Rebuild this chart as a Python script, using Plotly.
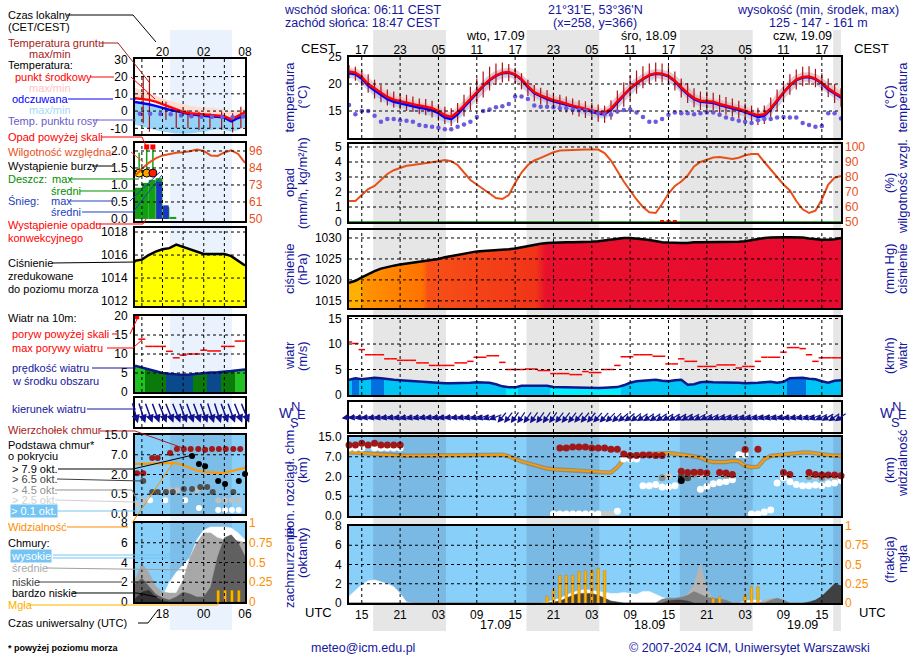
import numpy as np
import plotly.graph_objects as go

W, H = 910, 660
FONT = "Liberation Sans, Arial, Helvetica, sans-serif"
NAVY = "#16169e"
ORANGE = "#ff8c00"
HUMC = "#e8501a"
DKRED = "#a52020"

# ======================= main meteogram data =======================
# hourly values; hour = UTC hours counted from 16.09 00:00
start_hour = 13
temp = [22.3, 22.1, 21.3, 20.0, 19.2, 18.4, 17.6, 17.1, 16.8, 16.5,
        16.3, 16.0, 15.8, 15.5, 15.0, 14.2, 13.9, 14.8, 16.0, 17.3,
        18.5, 19.7, 20.8, 21.6, 22.1, 22.2, 21.8, 20.9, 19.6, 18.5,
        17.9, 17.4, 17.0, 16.7, 16.3, 16.0, 15.7, 15.4, 15.1, 14.8,
        14.7, 15.4, 16.8, 18.0, 19.2, 20.2, 21.0, 21.7, 22.0, 21.9,
        21.5, 20.6, 19.4, 18.3, 17.4, 16.9, 16.8, 16.7, 16.3, 16.0,
        15.8, 15.4, 15.0, 14.6, 14.2, 14.4, 15.5, 17.0, 18.5, 19.8,
        20.8, 21.3, 21.4, 21.0, 20.2, 19.2, 18.4, 17.7]
feels_like = [22.0, 21.8, 21.0, 19.7, 18.8, 18.0, 17.2, 16.7, 16.4, 16.1,
              15.9, 15.6, 15.4, 15.1, 14.6, 13.8, 13.5, 14.4, 15.7, 17.1,
              18.3, 19.6, 20.7, 21.5, 22.0, 22.1, 21.7, 20.8, 19.4, 18.3,
              17.7, 17.2, 16.8, 16.5, 16.1, 15.8, 15.5, 15.2, 14.9, 14.5,
              14.4, 15.2, 16.6, 17.9, 19.1, 20.1, 20.9, 21.6, 21.9, 21.8,
              21.4, 20.5, 19.2, 18.1, 17.2, 16.7, 16.6, 16.5, 16.1, 15.8,
              15.6, 15.2, 14.8, 14.3, 13.9, 14.1, 15.3, 16.8, 18.4, 19.7,
              20.7, 21.2, 21.3, 20.9, 20.1, 19.0, 18.2, 17.5]
ground_max = [23.5, 23.2, 22.5, 21.8, 20.8, 19.8, 19.0, 18.6, 18.2, 18.0,
              17.7, 17.3, 17.2, 16.9, 16.3, 15.8, 15.5, 16.5, 18.0, 19.5,
              21.0, 22.3, 23.2, 23.8, 24.0, 23.7, 23.0, 22.0, 20.8, 19.8,
              19.3, 18.9, 18.4, 18.0, 17.7, 17.3, 17.0, 16.8, 16.5, 16.2,
              16.0, 17.0, 18.8, 20.3, 21.5, 22.5, 23.3, 23.8, 24.0, 23.8,
              23.3, 22.3, 21.0, 20.2, 19.2, 18.6, 18.6, 18.4, 18.0, 17.6,
              17.3, 16.9, 16.4, 16.0, 15.6, 16.0, 17.5, 19.0, 20.5, 21.8,
              22.7, 23.2, 23.3, 22.8, 22.0, 21.0, 20.0, 19.2]
ground_min = [21.0, 20.6, 19.6, 18.4, 17.3, 16.6, 16.0, 15.6, 15.3, 15.0,
              14.8, 14.4, 14.2, 13.8, 13.2, 12.6, 12.2, 12.8, 14.0, 15.2,
              16.3, 17.5, 18.8, 19.8, 20.3, 20.5, 20.2, 19.0, 17.8, 16.8,
              16.2, 15.8, 15.4, 15.0, 14.7, 14.3, 14.0, 13.7, 13.4, 13.0,
              12.8, 13.4, 14.5, 15.8, 17.0, 18.2, 19.2, 20.0, 20.4, 20.3,
              19.8, 18.8, 17.5, 16.5, 15.7, 15.2, 15.0, 15.0, 14.6, 14.3,
              14.0, 13.6, 13.2, 12.8, 12.4, 12.6, 13.6, 15.0, 16.6, 18.0,
              19.0, 19.6, 19.8, 19.4, 18.6, 17.6, 16.5, 15.8]
dew_point = [16.1, 14.4, 15.0, 15.0, 14.1, 13.0, 13.5, 13.5, 13.3, 13.2,
             13.0, 12.4, 12.2, 12.1, 11.9, 11.6, 11.6, 12.1, 12.5, 13.0,
             13.9, 15.0, 15.3, 15.7, 15.9, 16.3, 17.7, 17.7, 17.2, 16.0,
             15.8, 15.8, 15.7, 15.5, 15.5, 15.3, 15.2, 15.1, 14.9, 14.6,
             14.4, 14.3, 14.9, 15.2, 15.3, 14.7, 13.9, 13.0, 13.0, 13.5,
             14.3, 14.7, 14.6, 14.6, 14.4, 14.6, 14.7, 14.7, 14.3, 13.8,
             13.5, 13.2, 13.0, 12.8, 13.3, 13.5, 13.5, 13.8, 13.9, 13.8,
             13.8, 12.8, 12.4, 12.1, 12.2, 14.6, 14.6, 13.6]
humidity = [64, 64, 68, 72, 74, 78, 82, 84.5, 86, 87.5,
            88, 88.5, 89, 89.5, 90.5, 91.3, 90.5, 88, 83, 78,
            75, 72, 68.5, 66, 65.3, 68, 76, 83, 88, 91,
            92.8, 94.5, 96.5, 97.6, 97.9, 98, 98.2, 98.3, 98.4, 98.3,
            96, 91, 84, 77, 71, 65, 60, 56.5, 56, 62,
            69, 74, 77, 81, 87, 90, 91.5, 93, 93.3, 92.5,
            92, 92.8, 94.5, 95.3, 95.3, 90, 85, 80, 75, 71,
            64, 58.5, 56, 57.5, 65, 75, 79.5, 80.7]
pressure = [1019.3, 1019.8, 1020.6, 1021.4, 1022.1, 1022.7, 1023.1, 1023.4, 1023.7, 1023.9,
            1024.1, 1024.3, 1024.5, 1024.7, 1025.0, 1025.4, 1025.7, 1026.0, 1026.3, 1026.6,
            1026.8, 1026.9, 1027.0, 1027.0, 1027.1, 1027.3, 1027.5, 1027.8, 1028.1, 1028.4,
            1028.6, 1028.8, 1028.9, 1029.0, 1029.0, 1029.0, 1029.0, 1029.0, 1029.1, 1029.2,
            1029.4, 1029.7, 1029.9, 1030.0, 1030.0, 1029.9, 1029.7, 1029.5, 1029.2, 1029.0,
            1028.9, 1028.8, 1028.8, 1028.8, 1029.0, 1029.0, 1029.0, 1029.0, 1029.0, 1029.0,
            1029.0, 1029.1, 1029.2, 1029.5, 1029.8, 1030.0, 1030.1, 1030.2, 1030.2, 1030.2,
            1030.2, 1030.1, 1029.9, 1029.7, 1029.6, 1029.6, 1029.7, 1030.0]
wind_speed = [3.0, 3.3, 3.1, 3.2, 3.4, 3.3, 3.1, 3.0, 2.9, 2.8,
              2.7, 2.6, 2.6, 2.5, 2.4, 2.3, 2.3, 2.3, 2.4, 2.4,
              2.5, 2.5, 2.4, 2.1, 1.7, 1.5, 1.5, 1.8, 1.8, 1.9,
              1.9, 1.8, 1.55, 1.5, 1.5, 1.5, 1.45, 1.4, 1.35, 1.35,
              1.4, 1.5, 1.55, 1.9, 2.4, 2.7, 2.8, 2.9, 3.0, 2.8,
              2.7, 2.9, 3.0, 2.0, 2.1, 2.5, 2.6, 2.5, 2.5, 2.4,
              2.4, 2.4, 2.3, 2.3, 2.4, 2.5, 2.6, 2.4, 2.6, 3.3,
              3.4, 3.4, 3.2, 3.1, 2.7, 2.4, 2.8, 2.9]
wind_gust = [10.4, 10.1, 8.9, 7.9, 7.9, 7.9, 7.1, 7.1, 6.8, 6.8,
             6.8, 6.3, 6.3, 5.8, 5.8, 5.8, 5.8, 6.3, 6.3, 6.6,
             7.4, 7.4, 7.7, 7.7, 6.4, 5.0, 5.0, 5.0, 5.1, 5.1,
             4.8, 4.8, 4.2, 4.2, 4.2, 4.0, 4.0, 4.6, 4.4, 4.4,
             5.0, 5.0, 5.8, 7.5, 7.5, 7.9, 7.9, 7.9, 7.6, 7.6,
             6.1, 6.1, 7.1, 6.6, 6.6, 5.6, 5.6, 5.6, 5.9, 5.9,
             5.9, 5.3, 5.6, 5.6, 6.6, 7.4, 7.4, 7.4, 8.4, 9.3,
             9.3, 9.1, 7.9, 6.6, 7.3, 7.3, 7.3, 7.3]
wind_dir = [80, 80, 78, 78, 77, 77, 76, 76, 75, 75,
            75, 75, 76, 76, 77, 77, 78, 78, 76, 75,
            74, 72, 70, 68, 40, 38, 36, 35, 35, 35,
            35, 35, 36, 38, 38, 38, 40, 40, 40, 42,
            42, 45, 45, 50, 52, 52, 55, 55, 55, 55,
            58, 58, 60, 60, 62, 62, 65, 65, 65, 68,
            68, 70, 70, 70, 72, 72, 72, 72, 75, 75,
            75, 75, 72, 70, 65, 60, 55, 55]
visibility = [38, 36, 34, 32, 30, 28, 26, 25, 24, 24,
              24, 24, 24, 24, 24, 24, 24, 24, 24, 24,
              25, 26, 27, 28, 28, 22, 18, 16.5, 15, 13.5,
              12, 11, 10.5, 10.1, 10, 9.8, 9.5, 9.2, 8.8, 8.2,
              8, 8, 12, 18, 24, 28, 30, 32, 33, 34,
              35, 32, 29, 26, 22, 19.5, 17, 16, 16, 16,
              17, 16.5, 13, 12, 12.5, 18, 23, 26, 30, 34,
              37, 37, 37, 33, 29, 25, 24, 24]
conv_precip_hours = [62, 63, 64]

# cloud cover (oktas), only non-zero hours listed
cloud_high = {13: 0.7, 14: 1.3, 15: 1.9, 16: 2.3, 17: 2.4, 18: 2.2, 19: 2.0, 20: 1.7, 21: 1.0, 22: 0.1,
              44: 0.1, 45: 0.3, 46: 0.5, 47: 0.8, 48: 1.1, 49: 1.3, 50: 1.4, 51: 1.3, 52: 1.2, 53: 1.1,
              54: 1.0, 55: 1.0, 56: 1.1, 57: 1.0, 58: 0.9, 59: 1.2, 60: 1.2, 61: 0.9, 62: 0.6, 63: 0.4,
              64: 0.3, 65: 0.3, 66: 0.3, 67: 0.2, 68: 0.2, 69: 0.1, 75: 0.2, 76: 0.3, 77: 0.3, 78: 0.1}
cloud_mid = {62: 0.3, 63: 0.5, 64: 0.4, 65: 0.6, 66: 0.9, 67: 2.0, 68: 4.1, 69: 1.5, 70: 0.4,
             71: 0.3, 78: 0.3, 79: 0.5, 80: 0.4}
cloud_low = {62: 0.4, 63: 0.5, 64: 0.5, 65: 0.6, 66: 0.8, 67: 1.2, 68: 0.9, 69: 0.6, 70: 0.5,
             71: 0.4, 72: 0.3, 79: 0.3, 80: 0.5, 81: 0.3, 86: 0.2, 87: 0.6, 88: 1.0, 89: 1.5, 90: 1.7}
cloud_vlow = {45: 0.1, 46: 0.2, 47: 0.5, 48: 0.8, 49: 1.0, 50: 1.0, 51: 1.0, 52: 0.8, 53: 0.5,
              54: 0.2, 55: 0.1, 63: 0.2, 64: 0.3, 65: 0.3, 66: 0.2, 85: 0.1, 86: 0.3, 87: 0.7,
              88: 1.3, 89: 2.0, 90: 1.8}
fog_hours = [44, 45, 46, 47, 48, 49, 50, 51, 52, 53, 70, 71, 75, 76, 77]
fog_frac = [0.09, 0.18, 0.36, 0.36, 0.36, 0.41, 0.42, 0.43, 0.45, 0.42, 0.06, 0.08, 0.11, 0.21, 0.21]

# cloud top / base heights (km)
cloud_top_h = [13, 14, 15, 16, 17, 18, 19, 20, 21, 46, 47, 48, 49, 50, 51, 52, 53, 54, 55,
               56, 57, 58, 59, 60, 61, 62, 65, 66, 67, 68, 69, 71, 72, 73, 75, 77, 81, 82,
               85, 86, 87, 88, 89, 90]
cloud_top_km = [11.8, 11.8, 12.5, 11.8, 12.5, 11.8, 11.8, 11.8, 11.8, 10.5, 10.5, 11.0, 11.0,
                11.0, 10.5, 10.5, 10.5, 10.0, 10.0, 8.1, 7.5, 7.5, 7.7, 7.7, 7.5, 7.5, 3.3, 3.0,
                3.1, 3.1, 2.9, 3.0, 2.9, 2.5, 9.9, 10.0, 3.0, 2.5, 3.0, 2.5, 2.4, 2.4, 2.4, 2.2]
base01_h = [13, 14, 15, 17, 18, 19, 20, 21, 45, 46, 47, 48, 49, 50, 51, 52, 55, 56, 57, 58,
            59, 60, 61, 62, 63, 64, 68, 69, 70, 71, 72, 73, 74, 75, 76, 77, 78, 79, 80, 81,
            82, 83, 84, 85, 86, 87, 88, 89, 90]
base01_km = [10.5, 10.5, 10.5, 10.5, 10.5, 10.5, 10.5, 10.5, 0.05, 0.05, 0.05, 0.05, 0.05,
             0.05, 0.05, 0.05, 0.12, 6.4, 6.4, 6.4, 1.3, 1.3, 1.4, 1.2, 1.2, 1.3, 1.04, 1.24,
             1.44, 1.54, 1.62, 1.75, 7.8, 7.8, 0.05, 0.05, 0.1, 0.15, 1.5, 1.9, 1.6, 1.4, 1.3,
             1.3, 1.35, 1.3, 1.45, 1.5, 1.7]
base25_h = [16, 53, 54, 63, 68, 73, 86, 88, 89]
base25_km = [11.8, 0.05, 0.05, 2.1, 2.4, 2.3, 2.1, 2.1, 2.0]
base45_h = [62, 67, 72, 85, 87]
base45_km = [1.9, 2.6, 2.3, 2.0, 1.9]
base65_h = [65, 66]
base65_km = [2.0, 1.9]
base79_h = [65]
base79_km = [1.7]

tick_hours = [15, 21, 27, 33, 39, 45, 51, 57, 63, 69, 75, 81, 87]
cest_labels = ["17", "23", "05", "11", "17", "23", "05", "11", "17", "23", "05", "11", "17"]
utc_labels = ["15", "21", "03", "09", "15", "21", "03", "09", "15", "21", "03", "09", "15"]
date_hours = [36, 60, 84]
date_top = ["wto, 17.09", "śro, 18.09", "czw, 19.09"]
date_bottom = ["17.09", "18.09", "19.09"]
sunset_h = [16.78, 40.78, 64.78, 88.78]
sunrise_h = [28.18, 52.18, 76.18, 100.18]

# ======================= legend example (mini) data =======================
mini_start = 14
mini_temp = [7.4, 7.1, 6.5, 5.5, 4.0, 2.2, 0.8, -0.5, -1.2, -1.6, -2.0, -2.2, -2.4, -3.0, -4.8, -3.0, -0.8]
mini_feels = [5.2, 4.8, 4.0, 3.0, 1.8, 0.8, 0.0, -1.0, -1.8, -2.3, -2.8, -3.1, -3.3, -3.8, -6.0, -4.0, -2.5]
mini_tmax = [13.5, 12.0, 10.5, 9.0, 7.5, 6.0, 5.0, 4.0, 3.0, 2.5, 2.0, 2.0, 1.5, 1.0, 0.0, 0.5, 1.5]
mini_fmin = [-8, -9, -10, -11, -12, -12.5, -13, -13, -13, -12.5, -12, -11, -10.5, -11, -12, -11, -9]
mini_dew_h = [14.7, 16.2, 17.7, 19.2, 20.7, 22.2, 23.7, 25.2, 26.7, 28.2, 29.7]
mini_dew = [-1.5, -1.6, -1.7, -1.8, -2.5, -3.0, -3.3, -3.3, -3.5, -3.6, -3.2]
mini_ground_h = [15.2, 16.1, 18.5, 20.0, 21.7, 23.3, 24.9, 26.6, 28.2, 29.4]
mini_ground_max = [19.9, 19.9, 5.4, 0.6, 0.6, -0.4, -1.3, -0.4, -1.3, 2.5]
mini_ground_min = [-7.1, -12.0, -5.2, -10.0, -10.0, -11.0, -10.0, -11.0, -12.5, -10.0]
mini_rain_h = [14.5, 15.5, 16.5, 17.5, 18.5, 19.5]
mini_rain = [0.92, 1.06, 1.15, 1.2, 0.35, 0.06]
mini_snow = [0, 0, 0, 1.1, 0.4, 0]
mini_storm_h = [14.6, 15.7, 16.6]
mini_storm_y = [1.35, 1.35, 1.35]
mini_over_h = [15.7, 16.6]
mini_over_y = [2.12, 2.12]
mini_hum = [79, 84, 88, 91, 93, 94, 94.8, 95.2, 95.8, 97, 96, 93, 92.6, 95, 96.5, 94, 88]
mini_press = [1015.5, 1015.6, 1016.0, 1016.3, 1016.5, 1016.6, 1016.9, 1016.7, 1016.5, 1016.3,
              1016.1, 1016.1, 1016.1, 1016.1, 1015.9, 1015.5, 1015.1]
mini_wind = [6.9, 6.4, 5.8, 5.4, 5.0, 4.8, 4.6, 4.5, 4.6, 4.8, 5.0, 5.1, 5.2, 5.3, 5.5, 5.7, 5.9]
mini_gust_h = [15, 16, 17, 18, 19, 20, 21, 22, 23, 24, 25, 26, 27, 28, 29, 30]
mini_gust = [13.9, 12.0, 12.0, 12.0, 10.7, 9.0, 9.7, 10.0, 10.0, 11.0, 10.8, 10.8, 12.0, 12.0, 13.4, 13.4]
mini_dir = [345, 342, 340, 340, 338, 338, 338, 340, 340, 340, 340, 342, 342, 340, 340, 338, 338]
mini_vis = [13, 13, 13, 13, 13.5, 13.8, 13.5, 12, 10, 8, 7, 6.5, 6.2, 6.2, 7.5, 8.5, 10]
mini_top_h = [14.3, 15.2, 16.5, 17.3, 19.1, 20.1, 21.1, 22.1, 23.2, 24.2, 25.2, 26.2, 27.2, 28.3, 29.3]
mini_top_km = [2.3, 2.3, 6.2, 6.2, 7.7, 9.3, 9.3, 9.3, 9.3, 9.0, 9.3, 9.3, 9.3, 9.3, 9.3]
mini_b79_h = [22.3, 23.3, 24.2, 26.1, 27.1, 29.1, 30.0]
mini_b79_km = [6.7, 4.65, 4.1, 1.5, 1.28, 1.5, 2.15]
mini_b65_h = [15.2, 16.5, 17.3, 18.5, 19.5, 21.1, 22.3, 23.5, 24.5, 25.3, 28.3]
mini_b65_km = [1.5, 0.67, 0.67, 0.67, 0.67, 0.9, 0.9, 1.05, 1.05, 0.67, 0.67]
mini_b45_h = [14.3, 15.2, 19.1, 20.1, 23.0, 26.1, 27.1, 28.1, 29.1]
mini_b45_km = [0.23, 0.35, 0.8, 0.8, 0.8, 0.35, 0.35, 0.35, 0.35]
mini_b01_h = [16.2, 18.4, 21.3, 23.3, 26.1, 27.1, 28.1, 29.1]
mini_b01_km = [0.35, 0.35, 0.35, 0.15, 0.1, 0.1, 0.1, 0.1]
mini_high = [0, 0, 0, 0, 0.5, 2.0, 3.0, 3.8, 4.5, 6.3, 7.3, 7.6, 7.6, 7.6, 7.5, 7.0, 6.3]
mini_mid = [2.2, 3.9, 3.0, 1.6, 1.0, 0.9, 0.9, 2.2, 4.5, 6.0, 7.0, 7.0, 6.5, 6.3, 6.3, 6.2, 6.0]
mini_low = [1.8, 2.4, 1.6, 0.8, 0.4, 0.2, 0.5, 1.0, 0.8, 0.5, 0.5, 1.5, 4.5, 6.5, 6.8, 6.0, 4.6]
mini_vlow = [0.3, 1.0, 1.2, 0.5, 0.1, 0, 0, 0, 0, 0, 0, 0, 0, 0, 0, 0, 0]
mini_fog_h = [26.1, 27.1, 28.1, 29.1]
mini_fog = [0.15, 0.15, 0.15, 0.15]
mini_night = (19.1, 28.1)

# ======================= helpers =======================
hours = list(range(start_hour, start_hour + len(temp)))
rain = [0.0 for _ in hours]
mini_hours = list(range(mini_start, mini_start + len(mini_temp)))

CB_KM = [0, 0.5, 2, 7, 15]
VIS_KM = [0, 1, 5, 20, 100]
POS = [0, 1, 2, 3, 4]


def cbpos(v):
    return list(np.interp(v, CB_KM, POS))


def vispos(v):
    return list(np.interp(v, VIS_KM, POS))


def P(x):
    return x / W


def Q(y):
    return 1 - y / H


def xr(n):
    return "x" if n == 1 else f"x{n}"


def yr(n):
    return "y" if n == 1 else f"y{n}"


def xk(n):
    return "xaxis" if n == 1 else f"xaxis{n}"


def yk(n):
    return "yaxis" if n == 1 else f"yaxis{n}"


fig = go.Figure()
layout = dict(width=W, height=H, autosize=False,
              margin=dict(l=0, r=0, t=0, b=0, pad=0, autoexpand=False),
              paper_bgcolor="white", plot_bgcolor="rgba(0,0,0,0)", showlegend=False,
              barmode="overlay", font=dict(family=FONT, size=12, color="black"))
shapes = []
annotations = []

MAIN_X = (349, 841)
MINI_X = (135, 245)
main_rows = [(57, 138), (144, 222), (230, 308), (317, 395), (402, 432), (437, 516), (526, 603)]
mini_rows = [(59, 134), (143, 221), (228, 306), (316, 392), (398, 427), (435, 514), (523, 602)]

TICK = 12
tickfont = dict(size=TICK, family=FONT, color="black")


def make_panel(n, xpx, ypx, xrange, yrange, yticks, yticktext=None, right=None,
               xticks=None, xticktext=None, xside=None):
    xa = dict(domain=[P(xpx[0]), P(xpx[1])], range=xrange, anchor=yr(n), showline=True,
              linecolor="black", linewidth=2, mirror=True, ticks="", showgrid=False,
              zeroline=False, fixedrange=True, tickfont=tickfont, automargin=False)
    if xticks is not None:
        xa.update(tickvals=xticks, ticktext=xticktext, side=xside, showticklabels=True,
                  ticklabelstandoff=(-4 if xside == "top" else 0))
    else:
        xa.update(showticklabels=False)
    ya = dict(domain=[Q(ypx[1]), Q(ypx[0])], range=yrange, anchor=xr(n), showline=True,
              linecolor="black", linewidth=2, mirror=True, ticks="", showgrid=False,
              zeroline=False, fixedrange=True, tickfont=tickfont, ticklabelstandoff=3,
              automargin=False)
    if yticks is None:
        ya.update(showticklabels=False)
    else:
        ya.update(tickvals=yticks, ticktext=yticktext if yticktext else [str(t) for t in yticks])
    layout[xk(n)] = xa
    layout[yk(n)] = ya
    if right is not None:
        m, rrange, rticks, rtext, rcolor = right
        layout[yk(m)] = dict(overlaying=yr(n), anchor=xr(n), side="right", range=rrange,
                             tickvals=rticks, ticktext=rtext, showline=False, showgrid=False,
                             zeroline=False, ticks="", fixedrange=True, ticklabelstandoff=3,
                             automargin=False,
                             tickfont=dict(size=TICK, family=FONT, color=rcolor))


# ---------- main panels ----------
XR = [13, 90]
make_panel(1, MAIN_X, main_rows[0], XR, [10, 25], [15, 20, 25],
           right=(8, [10, 25], [15, 20, 25], ["15", "20", "25"], "black"),
           xticks=tick_hours, xticktext=cest_labels, xside="top")
make_panel(2, MAIN_X, main_rows[1], XR, [0, 5.2], [0, 1, 2, 3, 4, 5],
           right=(9, [50, 102], [50, 60, 70, 80, 90, 100],
                  ["50", "60", "70", "80", "90", "100"], HUMC))
make_panel(3, MAIN_X, main_rows[2], XR, [1013.3, 1031.9], [1015, 1020, 1025, 1030],
           right=(10, [1013.3, 1031.9], [1015, 1020, 1025, 1030],
                  ["761", "765", "769", "772"], "black"))
make_panel(4, MAIN_X, main_rows[3], XR, [0, 15.3], [0, 5, 10, 15],
           right=(11, [0, 15.3 * 3.6], [0, 18, 36, 54], ["0", "18", "36", "54"], "black"))
make_panel(5, MAIN_X, main_rows[4], XR, [-1, 1], None)
make_panel(6, MAIN_X, main_rows[5], XR, [0, 4], [0, 1, 2, 3, 4],
           ["0.0", "0.5", "2.0", "7.0", "15.0"],
           right=(13, [0, 4], [0, 1, 2, 3, 4], ["0", "1", "5", "20", "100"], ORANGE))
make_panel(7, MAIN_X, main_rows[6], XR, [0, 8], [0, 2, 4, 6, 8],
           right=(14, [0, 1], [0, 0.25, 0.5, 0.75, 1], ["0", "0.25", "0.5", "0.75", "1"], ORANGE),
           xticks=tick_hours, xticktext=utc_labels, xside="bottom")

# ---------- mini (legend) panels ----------
MR = [14, 30]
mini_hum_range = [50 + 23 * -0.06, 50 + 23 * 2.235]
make_panel(15, MINI_X, mini_rows[0], MR, [-13.3, 30.2], [-10, 0, 10, 20, 30],
           right=(22, [-13.3, 30.2], [-10, 0, 10, 20, 30], ["-10", "0", "10", "20", "30"], "black"),
           xticks=[18, 24, 30], xticktext=["20", "02", "08"], xside="top")
make_panel(16, MINI_X, mini_rows[1], MR, [-0.06, 2.235], [0, 0.5, 1, 1.5, 2],
           ["0.0", "0.5", "1.0", "1.5", "2.0"],
           right=(23, mini_hum_range, [50, 61.5, 73, 84.5, 96], ["50", "61", "73", "84", "96"], HUMC))
make_panel(17, MINI_X, mini_rows[2], MR, [1011.57, 1018.35], [1012, 1014, 1016, 1018],
           right=(24, [1011.57, 1018.35], [1012, 1014, 1016, 1018],
                  ["1012", "1014", "1016", "1018"], "black"))
make_panel(18, MINI_X, mini_rows[3], MR, [0, 20], [0, 5, 10, 15, 20],
           right=(25, [0, 72], [0, 18, 36, 54, 72], ["0", "18", "36", "54", "72"], "black"))
make_panel(19, MINI_X, mini_rows[4], MR, [-1, 1], None)
make_panel(20, MINI_X, mini_rows[5], MR, [0, 4], [0, 1, 2, 3, 4],
           ["0.0", "0.5", "2.0", "7.0", "15.0"],
           right=(27, [0, 4], [0, 1, 2, 3, 4], ["0", "1", "5", "20", "100"], ORANGE))
make_panel(21, MINI_X, mini_rows[6], MR, [0, 8], [0, 2, 4, 6, 8],
           right=(28, [0, 1], [0, 0.25, 0.5, 0.75, 1], ["0", "0.25", "0.5", "0.75", "1"], ORANGE),
           xticks=[18, 24, 30], xticktext=["18", "00", "06"], xside="bottom")

# ---------- backgrounds ----------
for ss, sr in zip(sunset_h, sunrise_h):
    shapes.append(dict(type="rect", xref="x", yref="paper", x0=ss, x1=min(sr, XR[1]),
                       y0=Q(631), y1=Q(30), fillcolor="#e6e6e6", line=dict(width=0), layer="below"))
shapes.append(dict(type="rect", xref="x15", yref="paper", x0=mini_night[0], x1=mini_night[1],
                   y0=Q(630), y1=Q(30), fillcolor="#eaf2fd", line=dict(width=0), layer="below"))
for (xa, xb), rows in ((MAIN_X, main_rows), (MINI_X, mini_rows)):
    for (t, b) in rows[5:7]:
        shapes.append(dict(type="rect", xref="paper", yref="paper", x0=P(xa), x1=P(xb),
                           y0=Q(b), y1=Q(t), fillcolor="#88cff9", line=dict(width=0), layer="below"))
for n in (6, 7):
    for ss, sr in zip(sunset_h, sunrise_h):
        shapes.append(dict(type="rect", xref=xr(n), yref=f"{yr(n)} domain", x0=ss, x1=min(sr, XR[1]),
                           y0=0, y1=1, fillcolor="rgba(0,0,40,0.10)", line=dict(width=0), layer="below"))
for n in (20, 21):
    shapes.append(dict(type="rect", xref=xr(n), yref=f"{yr(n)} domain", x0=mini_night[0],
                       x1=mini_night[1], y0=0, y1=1, fillcolor="rgba(0,0,40,0.08)",
                       line=dict(width=0), layer="below"))

# ---------- grids (dashed, drawn above fills) ----------
GRID = dict(color="black", width=1, dash="3px,3px")


def vgrid(n, xs):
    for x in xs:
        shapes.append(dict(type="line", xref=xr(n), yref=f"{yr(n)} domain", x0=x, x1=x, y0=0, y1=1,
                           line=GRID, layer="above"))


def hgrid(n, ys):
    for y in ys:
        shapes.append(dict(type="line", xref=f"{xr(n)} domain", yref=yr(n), x0=0, x1=1, y0=y, y1=y,
                           line=GRID, layer="above"))


for n in range(1, 8):
    vgrid(n, tick_hours)
hgrid(1, [15, 20])
hgrid(2, [1, 2, 3, 4, 5])
hgrid(3, [1015, 1020, 1025, 1030])
hgrid(4, [5, 10, 15])
hgrid(6, [1, 2, 3])
hgrid(7, [2, 4, 6])
for n in range(15, 22):
    vgrid(n, [15, 18, 21, 24, 27])
hgrid(15, [-10, 0, 10, 20])
hgrid(16, [0.5, 1.0, 1.5, 2.0])
hgrid(17, [1012, 1014, 1016, 1018])
hgrid(18, [5, 10, 15])
hgrid(20, [1, 2, 3])
hgrid(21, [2, 4, 6])


def S(**kw):
    fig.add_trace(go.Scatter(hoverinfo="skip", **kw))


def vbars(xs, lo, hi):
    bx, by = [], []
    for x, a, b in zip(xs, lo, hi):
        bx += [x, x, None]
        by += [a, b, None]
    return bx, by


def dashes(xs, ys, half=0.5):
    bx, by = [], []
    for x, y in zip(xs, ys):
        bx += [x - half, x + half, None]
        by += [y, y, None]
    return bx, by


def stepped_scale(xs, colors, x0, x1):
    stops = []
    n = len(xs)
    for i, (h, c) in enumerate(zip(xs, colors)):
        a = 0.0 if i == 0 else min(max((h - 0.5 - x0) / (x1 - x0), 0), 1)
        b = 1.0 if i == n - 1 else min(max((h + 0.5 - x0) / (x1 - x0), 0), 1)
        if stops:
            a = max(a, stops[-1][0] + 1e-6)
        b = max(b, a + 1e-6) if i < n - 1 else 1.0
        stops.append([a, c])
        stops.append([b, c])
    return stops


# ======================= main traces =======================
S(x=hours, y=feels_like, mode="lines", line=dict(color="rgba(140,200,250,0.55)", width=9), xaxis="x", yaxis="y")
S(x=hours, y=temp, mode="lines", line=dict(color="rgba(255,170,170,0.45)", width=9), xaxis="x", yaxis="y")
gx, gy = vbars(hours, ground_min, ground_max)
S(x=gx, y=gy, mode="lines", line=dict(color="#b01010", width=1.2), xaxis="x", yaxis="y")
S(x=hours, y=feels_like, mode="lines", line=dict(color="#0000ff", width=2.5), xaxis="x", yaxis="y")
S(x=hours, y=temp, mode="lines", line=dict(color="#ff0000", width=2.5), xaxis="x", yaxis="y")
S(x=hours, y=dew_point, mode="markers", marker=dict(color="#6a5ae0", size=4.5, symbol="circle"),
  xaxis="x", yaxis="y")

S(x=hours, y=rain, mode="lines", line=dict(color="#008c00", width=1.5), xaxis="x2", yaxis="y2")
S(x=conv_precip_hours, y=[0 for _ in conv_precip_hours], mode="markers", cliponaxis=False,
  marker=dict(color="#ff0000", size=4, symbol="square"), xaxis="x2", yaxis="y2")
S(x=hours, y=humidity, mode="lines", line=dict(color=HUMC, width=2), xaxis="x2", yaxis="y9")

S(x=hours, y=pressure, mode="lines", fill="tozeroy", line=dict(color="black", width=2.5),
  fillgradient=dict(type="horizontal", start=hours[0], stop=hours[-1],
                    colorscale=[[0, "#ffb000"], [0.022, "#ffb000"], [0.03, "#ff9400"],
                                [0.15, "#ff7200"], [0.16, "#f85018"], [0.38, "#f03418"],
                                [0.40, "#e8102c"], [1, "#e80a30"]]),
  xaxis="x3", yaxis="y3")

wind_colors = ["#0070e0" if v >= 3.3 else ("#00f0ff" if v < 1.6 else "#00c4f4") for v in wind_speed]
S(x=hours, y=wind_speed, mode="lines", fill="tozeroy", line=dict(color="#0a1a8c", width=2.5),
  fillgradient=dict(type="horizontal", start=hours[0], stop=hours[-1],
                    colorscale=stepped_scale(hours, wind_colors, hours[0], hours[-1])),
  xaxis="x4", yaxis="y4")
dx_, dy_ = dashes(hours, wind_gust, 0.5)
S(x=dx_, y=dy_, mode="lines", line=dict(color="#ff0000", width=1.5), xaxis="x4", yaxis="y4")


def arrow(n, h, d, L, width=1.3, size=1.0):
    rad = np.radians(d)
    ax = float(np.sin(rad) * L)
    ay = float(-np.cos(rad) * L)
    annotations.append(dict(x=h, y=0, xref=xr(n), yref=yr(n), ax=ax, ay=ay, showarrow=True,
                            arrowhead=2, arrowsize=size, arrowwidth=width, arrowcolor="#12128e",
                            text="", xshift=-ax / 2, yshift=ay / 2))


for h, d in zip(hours, wind_dir):
    arrow(5, h, d, 15, width=1.2, size=1.1)

S(x=hours, y=vispos(visibility), mode="lines", line=dict(color="rgba(150,110,50,0.55)", width=4.5),
  xaxis="x6", yaxis="y6")
S(x=hours, y=vispos(visibility), mode="lines", line=dict(color="#ff9900", width=2), xaxis="x6", yaxis="y6")
for hh, kk, col in ((base01_h, base01_km, "#ffffff"), (base25_h, base25_km, "#c8c8c8"),
                    (base45_h, base45_km, "#909090"), (base65_h, base65_km, "#505050"),
                    (base79_h, base79_km, "#000000"), (cloud_top_h, cloud_top_km, "#a01818")):
    S(x=hh, y=cbpos(kk), mode="markers", cliponaxis=False,
      marker=dict(color=col, size=7, line=dict(width=0)), xaxis="x6", yaxis="y6")

for layer, col in ((cloud_high, "#ffffff"), (cloud_mid, "#b4b4b4"), (cloud_low, "#808080"),
                   (cloud_vlow, "#404040")):
    vals = [layer.get(h, 0.0) for h in hours]
    S(x=hours, y=vals, mode="lines", fill="tozeroy", fillcolor=col, line=dict(color=col, width=0.5),
      xaxis="x7", yaxis="y7")
fig.add_trace(go.Bar(x=fog_hours, y=fog_frac, width=0.4, hoverinfo="skip",
                     marker=dict(color="#ffb400", line=dict(color="#d08000", width=0.5)),
                     xaxis="x7", yaxis="y14"))

# ======================= mini traces =======================
S(x=mini_hours, y=mini_tmax, mode="lines", line=dict(width=0), xaxis="x15", yaxis="y15")
S(x=mini_hours, y=mini_temp, mode="lines", fill="tonexty", fillcolor="#ffdcd2", line=dict(width=0),
  xaxis="x15", yaxis="y15")
S(x=mini_hours, y=mini_fmin, mode="lines", line=dict(width=0), xaxis="x15", yaxis="y15")
S(x=mini_hours, y=mini_feels, mode="lines", fill="tonexty", fillcolor="rgba(120,200,245,0.75)",
  line=dict(width=0), xaxis="x15", yaxis="y15")
gx, gy = vbars(mini_ground_h, mini_ground_min, mini_ground_max)
S(x=gx, y=gy, mode="lines", line=dict(color="#b01010", width=1.2), xaxis="x15", yaxis="y15")
S(x=mini_hours, y=mini_feels, mode="lines", line=dict(color="#0000ff", width=2.5), xaxis="x15", yaxis="y15")
S(x=mini_hours, y=mini_temp, mode="lines", line=dict(color="#ff0000", width=2.5), xaxis="x15", yaxis="y15")
S(x=mini_dew_h, y=mini_dew, mode="markers", marker=dict(color="#6a5ae0", size=4.5, symbol="circle"),
  xaxis="x15", yaxis="y15")

fig.add_trace(go.Bar(x=mini_rain_h, y=mini_rain, width=1.0, hoverinfo="skip",
                     marker=dict(color="#12a012", line=dict(width=0)), xaxis="x16", yaxis="y16"))
fig.add_trace(go.Bar(x=mini_rain_h, y=mini_snow, width=0.8, hoverinfo="skip",
                     marker=dict(color="#1a34c8", line=dict(width=0)), xaxis="x16", yaxis="y16"))
sx, sy = vbars(mini_storm_h, mini_storm_y, [1.95, 2.12, 2.12])
S(x=sx, y=sy, mode="lines", line=dict(color="#10a010", width=1.5), xaxis="x16", yaxis="y16")
S(x=mini_over_h, y=mini_over_y, mode="markers", marker=dict(color="#ff0000", size=5, symbol="square"),
  xaxis="x16", yaxis="y16")
S(x=mini_hours, y=mini_hum, mode="lines", line=dict(color=HUMC, width=2), xaxis="x16", yaxis="y23")
S(x=mini_storm_h, y=mini_storm_y, mode="markers",
  marker=dict(color=["#ffe000", "#ffa000", "#ff2000"], size=8, line=dict(color="black", width=1)),
  xaxis="x16", yaxis="y16")

S(x=mini_hours, y=mini_press, mode="lines", fill="tozeroy", fillcolor="#ffff00",
  line=dict(color="black", width=2.5), xaxis="x17", yaxis="y17")

mini_wind_colors = ["#22c022", "#22c022", "#0a7a0a", "#0a7a0a", "#0a7a0a", "#0a4a8c", "#0a4a8c",
                    "#0a4a8c", "#0a4a8c", "#0a7a0a", "#0a7a0a", "#0a4a8c", "#0a4a8c", "#0a7a0a",
                    "#0a7a0a", "#22c022", "#22c022"]
S(x=mini_hours, y=mini_wind, mode="lines", fill="tozeroy", line=dict(color="#0a1a8c", width=2.5),
  fillgradient=dict(type="horizontal", start=mini_hours[0], stop=mini_hours[-1],
                    colorscale=stepped_scale(mini_hours, mini_wind_colors, mini_hours[0], mini_hours[-1])),
  xaxis="x18", yaxis="y18")
dx_, dy_ = dashes(mini_gust_h, mini_gust, 0.5)
S(x=dx_, y=dy_, mode="lines", line=dict(color="#ff0000", width=1.5), xaxis="x18", yaxis="y18")
S(x=[14.25], y=[19.8], mode="markers", cliponaxis=False,
  marker=dict(color="#ff0000", size=5, symbol="square"), xaxis="x18", yaxis="y18")

for h, d in zip(mini_hours, mini_dir):
    arrow(19, h, d, 22, width=1.5, size=1.1)

S(x=mini_hours, y=vispos(mini_vis), mode="lines", line=dict(color="#ff9900", width=2.2),
  xaxis="x20", yaxis="y20")
for hh, kk, col in ((mini_b01_h, mini_b01_km, "#ffffff"), (mini_b45_h, mini_b45_km, "#c0c0c0"),
                    (mini_b65_h, mini_b65_km, "#505050"), (mini_b79_h, mini_b79_km, "#000000"),
                    (mini_top_h, mini_top_km, "#a01818")):
    S(x=hh, y=cbpos(kk), mode="markers", cliponaxis=False,
      marker=dict(color=col, size=6, line=dict(width=0)), xaxis="x20", yaxis="y20")

for vals, col in ((mini_high, "#ffffff"), (mini_mid, "#a8a8a8"), (mini_low, "#606060"),
                  (mini_vlow, "#303030")):
    S(x=mini_hours, y=vals, mode="lines", fill="tozeroy", fillcolor=col, line=dict(color=col, width=0.5),
      xaxis="x21", yaxis="y21")
fig.add_trace(go.Bar(x=mini_fog_h, y=mini_fog, width=0.45, hoverinfo="skip",
                     marker=dict(color="#ffb400", line=dict(color="#806000", width=0.5)),
                     xaxis="x21", yaxis="y28"))

# ======================= texts =======================
def T(x, y, s, color="black", size=12.5, anchor="left", bg=None, angle=0, family=FONT):
    d = dict(x=P(x), y=Q(y), xref="paper", yref="paper", text=s, showarrow=False, xanchor=anchor,
             yanchor="middle", font=dict(family=family, size=size, color=color), textangle=angle)
    if bg:
        d["bgcolor"] = bg
        d["borderpad"] = 0
    annotations.append(d)


def mx(h):
    return MAIN_X[0] + (h - XR[0]) / (XR[1] - XR[0]) * (MAIN_X[1] - MAIN_X[0])


# header
T(362, 10, "wschód słońca: 06:11 CEST", NAVY, 12.5, "center")
T(362, 23, "zachód słońca: 18:47 CEST", NAVY, 12.5, "center")
T(595, 10, "21°31'E, 53°36'N", NAVY, 12.5, "center")
T(595, 23, "(x=258, y=366)", NAVY, 12.5, "center")
T(818, 10, "wysokość (min, środek, max)", NAVY, 12.5, "center")
T(818, 23, "125 - 147 - 161 m", NAVY, 12.5, "center")
for h, s in zip(date_hours, date_top):
    T(mx(h), 36, s, "black", 12.5, "center")
for h, s in zip(date_hours, date_bottom):
    T(mx(h), 625, s, "black", 12.5, "center")
T(318, 49, "CEST", "black", 13, "center")
T(871, 49, "CEST", "black", 13, "center")
T(318, 612, "UTC", "black", 13, "center")
T(872, 612, "UTC", "black", 13, "center")
T(363, 648, "meteo@icm.edu.pl", NAVY, 12.5, "center")
T(749, 648, "© 2007-2024 ICM, Uniwersytet Warszawski", NAVY, 12.5, "center")

# axis titles (rotated)
TS = 13
LX1, LX2, RX1, RX2 = 289, 302, 889, 902
for (t, b), l1, l2, r1, r2 in (((57, 138), "temperatura", "(°C)", "(°C)", "temperatura"),
                               ((144, 222), "opad", "(mm/h, kg/m²/h)", "(%)", "wilgotność wzgl."),
                               ((230, 308), "ciśnienie", "(hPa)", "(mm Hg)", "ciśnienie"),
                               ((317, 395), "wiatr", "(m/s)", "(km/h)", "wiatr")):
    c = (t + b) / 2
    T(LX1, c, l1, NAVY, TS, "center", angle=-90)
    T(LX2, c, l2, NAVY, TS, "center", angle=-90)
    T(RX1, c, r1, NAVY, TS, "center", angle=-90)
    T(RX2, c + (4 if r2.startswith("wilg") else 0), r2, NAVY, TS, "center", angle=-90)
T(LX1, 482, "pion. rozciągł. chm.", NAVY, TS, "center", angle=-90)
T(LX2, 470, "(km)", NAVY, TS, "center", angle=-90)
T(LX1, 568, "zachmurzenie", NAVY, TS, "center", angle=-90)
T(LX2, 553, "(oktanty)", NAVY, TS, "center", angle=-90)
T(RX1, 470, "(km)", NAVY, TS, "center", angle=-90)
T(RX2, 463, "widzialność", NAVY, TS, "center", angle=-90)
T(RX1, 560, "(frakcja)", NAVY, TS, "center", angle=-90)
T(RX2, 559, "mgła", NAVY, TS, "center", angle=-90)
for cx, cy in ((292, 413), (893, 413)):
    T(cx - 6, cy, "W", NAVY, 14, "center")
    T(cx + 3, cy - 7, "N", NAVY, 13, "center")
    T(cx + 9, cy + 1, "E", NAVY, 13, "center")
    T(cx + 2, cy + 9, "S", NAVY, 13, "center")

# legend texts
LEG = 11
legend_texts = [
    (6, 15, "Czas lokalny", "black"), (6, 27, "(CET/CEST)", "black"),
    (6, 43, "Temperatura gruntu", DKRED), (27, 54, "max/min", DKRED),
    (6, 65, "Temperatura:", "black"), (13, 77, "punkt środkowy", "#ff0000"),
    (27, 88, "max/min", "#ffc4c4"), (10, 99, "odczuwana", "#0000ff"),
    (27, 110, "max/min", "#a8d8f8"), (6, 121, "Temp. punktu rosy", "#6a5acd"),
    (6, 137, "Opad powyżej skali", "#ff0000"), (6, 152, "Wilgotność względna", HUMC),
    (6, 166, "Wystąpienie burzy", "black"), (6, 179, "Deszcz:", "#009000"),
    (50, 179, "max", "#009000"), (49, 191, "średni", "#009000"),
    (6, 201, "Śnieg:", "#2040c0"), (49, 201, "max", "#2040c0"), (49, 212, "średni", "#2040c0"),
    (6, 225, "Wystąpienie opadu", "#ff0000"), (6, 238, "konwekcyjnego", "#ff0000"),
    (6, 263, "Ciśnienie", "black"), (6, 276, "zredukowane", "black"),
    (6, 289, "do poziomu morza", "black"), (6, 318, "Wiatr na 10m:", "black"),
    (10, 334, "poryw powyżej skali", "#ff0000"), (10, 348, "max porywy wiatru", "#ff0000"),
    (10, 368, "prędkość wiatru", NAVY), (10, 381, "w środku obszaru", NAVY),
    (10, 409, "kierunek wiatru", NAVY), (6, 430, "Wierzchołek chmur", DKRED),
    (6, 445, "Podstawa chmur*", "black"), (6, 456, "o pokryciu", "black"),
    (10, 469, "> 7.9 okt.", "black"), (10, 479, "> 6.5 okt.", "#404040"),
    (10, 490, "> 4.5 okt.", "#909090"), (10, 500, "> 2.5 okt.", "#d0d0d0"),
    (6, 527, "Widzialność", ORANGE), (6, 543, "Chmury:", "black"),
    (10, 568, "średnie", "#a8a8a8"), (10, 582, "niskie", "#404040"),
    (10, 593, "bardzo niskie", "black"), (6, 605, "Mgła", "#ffb000"),
    (6, 623, "Czas uniwersalny (UTC)", "black"),
]
for x, y, s, c in legend_texts:
    T(x, y, s, c, LEG)
T(10, 511, "> 0.1 okt.", "white", LEG, bg="#74c4f4")
T(10, 556, "wysokie", "white", LEG, bg="#74c4f4")
T(6, 648, "<b>* powyżej poziomu morza</b>", "black", 9)

# leader lines
leaders = [
    ([(67, 15), (133, 15), (156, 42)], "black"),
    ([(100, 43), (118, 43), (149, 82)], DKRED),
    ([(90, 77), (114, 77)], "#ff0000"), ([(131, 77), (155, 99)], "#ff0000"),
    ([(68, 99), (113, 99)], "#0000ff"), ([(130, 99), (136, 99)], "#0000ff"),
    ([(93, 120), (136, 120)], "#6a5acd"),
    ([(102, 137), (142, 137), (146, 146)], "#ff0000"),
    ([(112, 152), (116, 152)], HUMC), ([(131, 152), (143, 162)], HUMC),
    ([(92, 166), (114, 166)], "black"), ([(130, 166), (137, 172)], "black"),
    ([(69, 179), (139, 179)], "#009000"),
    ([(80, 191), (136, 191)], "#009000"),
    ([(70, 201), (115, 201)], "#2040c0"), ([(130, 201), (160, 172)], "#2040c0"),
    ([(82, 212), (133, 212), (162, 175)], "#2040c0"),
    ([(96, 224), (143, 224), (146, 219)], "#ff0000"),
    ([(52, 263), (136, 262)], "black"),
    ([(112, 334), (117, 334)], "#ff0000"), ([(130, 334), (138, 317)], "#ff0000"),
    ([(107, 348), (133, 348), (143, 339)], "#ff0000"),
    ([(92, 368), (136, 368)], NAVY),
    ([(87, 409), (136, 409)], NAVY),
    ([(100, 431), (135, 431), (183, 448)], DKRED),
    ([(58, 469), (133, 469), (193, 455)], "black"),
    ([(57, 479), (143, 481)], "#404040"),
    ([(55, 490), (132, 490), (137, 500)], "#909090"),
    ([(55, 500), (135, 502)], "#d0d0d0"),
    ([(55, 511), (137, 511)], "#74c4f4"),
    ([(67, 527), (128, 527)], ORANGE), ([(132, 523), (173, 463)], ORANGE),
    ([(53, 555), (187, 555)], "#74c4f4"), ([(53, 558), (187, 558)], "#74c4f4"),
    ([(46, 568), (193, 570)], "#a0a0a0"),
    ([(38, 582), (122, 582)], "#404040"), ([(131, 582), (157, 582)], "#404040"),
    ([(73, 593), (137, 593), (157, 597)], "black"),
    ([(28, 605), (218, 605), (218, 592)], "#ffb000"),
    ([(138, 623), (148, 623), (158, 610)], "black"),
]
for pts, col in leaders:
    path = "M " + " L ".join(f"{P(x):.5f},{Q(y):.5f}" for x, y in pts)
    shapes.append(dict(type="path", path=path, xref="paper", yref="paper",
                       line=dict(color=col, width=1), layer="above"))

layout["shapes"] = shapes
layout["annotations"] = annotations
fig.update_layout(**layout)
fig.write_html("out.html", config={"displayModeBar": False},
               post_script="document.body.style.margin='0px';document.body.style.padding='0px';")
